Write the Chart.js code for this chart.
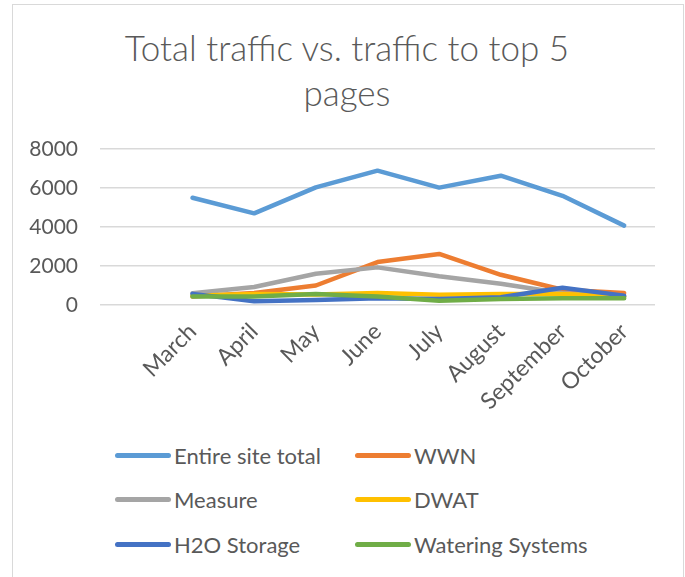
<!DOCTYPE html>
<html>
<head>
<meta charset="utf-8">
<script src="https://cdn.jsdelivr.net/npm/chart.js@4.4.1/dist/chart.umd.min.js"></script>
<style>
	body { margin: 0; background: #fff; }
	#page { position: relative; width: 685px; height: 577px; overflow: hidden; font-family: Lato, 'Open Sans', sans-serif; }
	#frame { position: absolute; left: 12px; top: 4px; width: 670px; height: 620px; border: 1.5px solid #d9d9d9; }
	#title { position: absolute; left: 12px; top: 25px; width: 670px; text-align: center; color: #595959; font-size: 35px; font-weight: 300; line-height: 45px; }
	#chart-box { position: absolute; left: 0; top: 0; width: 685px; height: 420px; }
	.legend-item { position: absolute; height: 24px; display: flex; align-items: center; color: #595959; font-size: 22px; white-space: nowrap; }
	.legend-item .swatch { width: 56px; height: 5px; border-radius: 3px; margin-right: 3px; }
</style>
</head>
<body>
<div id="page">
	<div id="frame"></div>
	<div id="title">Total traffic vs. traffic to top 5<br>pages</div>
	<div id="chart-box"><canvas id="traffic-chart" width="685" height="420"></canvas></div>
	<div id="legend"></div>
</div>
<script>
	// categories (first slot is blank, as in the source sheet)
	const months = ['', 'March', 'April', 'May', 'June', 'July', 'August', 'September', 'October'];

	// series values
	const entireSite = [null, 5500, 4700, 6030, 6890, 6020, 6630, 5600, 4070];
	const wwn = [null, 430, 620, 1000, 2200, 2620, 1550, 780, 620];
	const measure = [null, 600, 920, 1600, 1930, 1470, 1090, 600, 430];
	const dwat = [null, 480, 570, 540, 620, 520, 570, 570, 430];
	const h2oStorage = [null, 570, 190, 260, 340, 310, 400, 880, 480];
	const wateringSystems = [null, 430, 430, 570, 430, 220, 310, 340, 340];

	// y axis ticks
	const yTicks = [0, 2000, 4000, 6000, 8000];

	const seriesNames = ['Entire site total', 'WWN', 'Measure', 'DWAT', 'H2O Storage', 'Watering Systems'];
	const seriesData = [entireSite, wwn, measure, dwat, h2oStorage, wateringSystems];
	const seriesColors = ['#5b9bd5', '#ed7d31', '#a5a5a5', '#ffc000', '#4472c4', '#70ad47'];

	const textColor = '#595959';
	const fontFamily = "Lato, 'Open Sans', sans-serif";

	const datasets = seriesNames.map( function ( name, i ) {
		return {
			label: name,
			data: seriesData[i],
			borderColor: seriesColors[i],
			backgroundColor: seriesColors[i],
			borderWidth: 4.5,
			borderCapStyle: 'round',
			borderJoinStyle: 'round',
			pointRadius: 0,
			tension: 0,
			fill: false,
			// later series are drawn on top, like Excel
			order: seriesNames.length - i
		};
	} );

	const chart = new Chart( document.getElementById( 'traffic-chart' ).getContext( '2d' ), {
		type: 'line',
		data: { labels: months, datasets: datasets },
		options: {
			responsive: false,
			devicePixelRatio: 1,
			animation: false,
			layout: { padding: { left: 12, right: 30, top: 149, bottom: 0 } },
			plugins: {
				legend: { display: false },
				tooltip: { enabled: false },
				title: { display: false }
			},
			scales: {
				x: {
					offset: true,
					grid: { display: false },
					border: { display: false },
					ticks: {
						color: textColor,
						font: { family: fontFamily, size: 23 },
						maxRotation: 45,
						minRotation: 45,
						autoSkip: false,
						padding: 5
					},
					afterFit: function ( scale ) {
						scale.height = 115;
					}
				},
				y: {
					min: 0,
					max: 8000,
					afterBuildTicks: function ( scale ) {
						scale.ticks = yTicks.map( function ( v ) { return { value: v }; } );
					},
					grid: { color: '#d9d9d9', lineWidth: 1.5, drawTicks: false },
					border: { display: false },
					ticks: {
						color: textColor,
						font: { family: fontFamily, size: 21 },
						padding: 22,
						callback: function ( value ) {
							return String( value );
						}
					},
					afterFit: function ( scale ) {
						scale.width = 88;
					}
				}
			}
		}
	} );

	// two-column legend under the chart
	const legendBox = document.getElementById( 'legend' );
	const colX = [115, 355];
	const rowY = [443, 487, 532];

	chart.data.datasets.forEach( function ( ds, i ) {
		const item = document.createElement( 'div' );
		item.className = 'legend-item';
		item.style.left = colX[i % 2] + 'px';
		item.style.top = rowY[Math.floor( i / 2 )] + 'px';

		const swatch = document.createElement( 'span' );
		swatch.className = 'swatch';
		swatch.style.background = ds.borderColor;

		const label = document.createElement( 'span' );
		label.textContent = ds.label;

		item.appendChild( swatch );
		item.appendChild( label );
		legendBox.appendChild( item );
	} );
</script>
</body>
</html>
